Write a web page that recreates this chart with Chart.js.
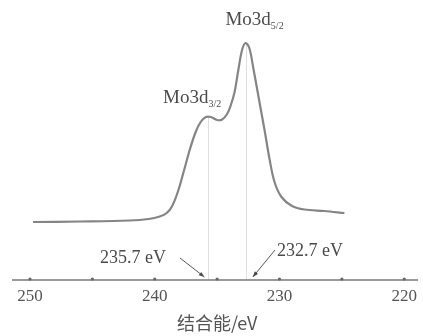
<!DOCTYPE html>
<html>
<head>
<meta charset="utf-8">
<script src="https://cdn.jsdelivr.net/npm/chart.js@4.4.0/dist/chart.umd.min.js"></script>
<style>
  html, body { margin: 0; padding: 0; background: #fff; }
  #wrap { width: 423px; height: 336px; position: relative; }
</style>
</head>
<body>
<div id="wrap"><canvas id="xps"></canvas></div>
<script>
// binding energy (eV) and intensity (arb. units)
const energy = [249.76, 246.0, 242.0, 240.5, 239.6, 239.04, 238.6, 238.1, 237.6, 237.2, 236.72, 236.32, 235.9, 235.5, 235.0, 234.6, 234.2, 233.9, 233.6, 233.3, 233.0, 232.72, 232.42, 232.1, 231.68, 231.2, 230.8, 230.4, 229.84, 229.0, 228.0, 226.4, 224.8];
const intensity = [58, 58.5, 59.5, 61, 63.5, 67, 74, 90, 112, 130, 148, 158, 163, 163, 160, 160.5, 166, 175, 188, 210, 230, 237, 232, 212, 183, 150, 121, 98, 83, 74, 70.5, 69, 67];
const xTicks = [250, 240, 230, 220];
const peakPos = [235.7, 232.7];
const peakTop = [164, 237];
const peakNames = ['3/2', '5/2'];
const axisTitle = '结合能/eV';

const serif = '"Liberation Serif", "DejaVu Serif", serif';
const grey = '#858585';

const decor = {
  id: 'decor',
  beforeDatasetsDraw(chart) {
    const { ctx, scales: { x, y }, chartArea } = chart;
    ctx.save();
    // faint guide lines from peaks down to the axis
    ctx.strokeStyle = '#dedede';
    ctx.lineWidth = 1;
    peakPos.forEach((p, i) => {
      const px = Math.round(x.getPixelForValue(p)) + 0.5;
      ctx.beginPath();
      ctx.moveTo(px, y.getPixelForValue(peakTop[i]));
      ctx.lineTo(px, chartArea.bottom);
      ctx.stroke();
    });
    ctx.restore();
  },
  afterDatasetsDraw(chart) {
    const { ctx, scales: { x, y }, chartArea } = chart;
    const base = chartArea.bottom;
    ctx.save();
    // axis line
    ctx.strokeStyle = '#777';
    ctx.lineWidth = 1.5;
    ctx.beginPath();
    ctx.moveTo(12, base);
    ctx.lineTo(418, base);
    ctx.stroke();
    // tick dots every 5 eV
    ctx.fillStyle = '#666';
    for (let v = 250; v >= 220; v -= 5) {
      ctx.beginPath();
      ctx.arc(x.getPixelForValue(v), base - 1, 1.6, 0, Math.PI * 2);
      ctx.fill();
    }
    // peak labels
    ctx.fillStyle = '#4a4a4a';
    const label = (sub, cx, by) => {
      ctx.font = '19px ' + serif;
      const w1 = ctx.measureText('Mo3d').width;
      ctx.font = '10px ' + serif;
      const w2 = ctx.measureText(sub).width;
      const left = cx - (w1 + w2) / 2;
      ctx.font = '19px ' + serif;
      ctx.textBaseline = 'alphabetic';
      ctx.textAlign = 'left';
      ctx.fillText('Mo3d', left, by);
      ctx.font = '10px ' + serif;
      ctx.fillText(sub, left + w1, by + 4);
    };
    label(peakNames[0], x.getPixelForValue(237.0), 103);
    label(peakNames[1], x.getPixelForValue(232.0), 25);
    // energy annotations with arrows
    ctx.font = '18px ' + serif;
    ctx.textAlign = 'left';
    ctx.textBaseline = 'middle';
    ctx.fillText(peakPos[0].toFixed(1) + ' eV', 100, 258);
    ctx.fillText(peakPos[1].toFixed(1) + ' eV', 277, 251);
    const arrow = (x0, y0, x1, y1) => {
      ctx.strokeStyle = '#555';
      ctx.lineWidth = 1;
      ctx.beginPath();
      ctx.moveTo(x0, y0);
      ctx.lineTo(x1, y1);
      ctx.stroke();
      const a = Math.atan2(y1 - y0, x1 - x0);
      ctx.beginPath();
      ctx.moveTo(x1, y1);
      ctx.lineTo(x1 - 6 * Math.cos(a - 0.35), y1 - 6 * Math.sin(a - 0.35));
      ctx.lineTo(x1 - 6 * Math.cos(a + 0.35), y1 - 6 * Math.sin(a + 0.35));
      ctx.closePath();
      ctx.fill();
    };
    arrow(180, 258, x.getPixelForValue(peakPos[0]) - 4, base - 3);
    arrow(275, 250, x.getPixelForValue(peakPos[1]) + 7, base - 3);
    ctx.restore();
  }
};

new Chart(document.getElementById('xps'), {
  type: 'line',
  data: {
    datasets: [{
      data: energy.map((e, i) => ({ x: e, y: intensity[i] })),
      borderColor: grey,
      borderWidth: 2.2,
      pointRadius: 0,
      tension: 0.35,
      fill: false
    }]
  },
  options: {
    responsive: true,
    maintainAspectRatio: false,
    animation: false,
    layout: { padding: { left: 30, right: 18, top: 0, bottom: 0 } },
    plugins: { legend: { display: false }, tooltip: { enabled: false } },
    scales: {
      x: {
        type: 'linear',
        reverse: true,
        min: 220,
        max: 250,
        afterBuildTicks: (s) => { s.ticks = xTicks.map(v => ({ value: v })); },
        afterFit: (s) => { s.height = 56; },
        grid: { display: false, drawTicks: false },
        border: { display: false },
        ticks: { color: '#555', font: { family: serif, size: 17 }, padding: 6, maxRotation: 0, autoSkip: false },
        title: { display: true, text: axisTitle, color: '#555', font: { family: '"Noto Sans CJK SC", ' + serif, size: 18 }, padding: { top: 0, bottom: 2 } }
      },
      y: { display: false, min: 0, max: 280 }
    }
  },
  plugins: [decor]
});
</script>
</body>
</html>
